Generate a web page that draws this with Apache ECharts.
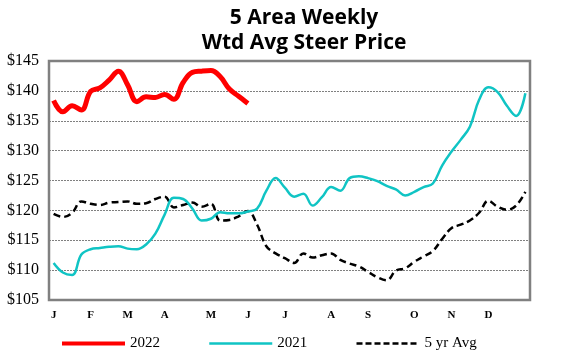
<!DOCTYPE html>
<html>
<head>
<meta charset="utf-8">
<script src="https://cdn.jsdelivr.net/npm/echarts@6/dist/echarts.min.js"></script>
<style>
  html, body { margin: 0; padding: 0; background: #fff; }
  #chart { width: 567px; height: 354px; }
</style>
</head>
<body>
<div id="chart"></div>
<script>
// weekly prices, $/cwt, week 1..52
var price2022 = [138.4, 136.5, 137.5, 136.8, 139.9, 140.5, 141.8, 143.3, 141.0, 138.2,
  139.0, 138.9, 139.4, 138.6, 141.4, 143.1, 143.3, 143.4, 142.4, 140.3,
  139.1, 137.9];

var price2021 = [111.2, 109.6, 109.2, 112.6, 113.5, 113.7, 113.9, 114.0, 113.6, 113.5,
  114.3, 116.1, 119.3, 122.1, 121.9, 120.3, 118.3, 118.6, 119.7, 119.5,
  119.5, 119.8, 120.3, 123.3, 125.4, 123.8, 122.3, 122.8, 120.8, 122.2,
  123.9, 123.3, 125.4, 125.7, 125.4, 124.9, 124.1, 123.5, 122.5, 123.1,
  123.9, 124.5, 127.5, 129.8, 131.8, 134.0, 138.5, 140.6, 139.8, 137.5,
  135.8, 139.6];

var avg5yr = [119.4, 118.9, 119.6, 121.5, 121.1, 120.9, 121.3, 121.4, 121.5, 121.1,
  121.2, 121.9, 122.3, 120.5, 120.9, 121.3, 120.6, 121.1, 118.3, 118.4,
  119.0, 119.9, 117.6, 114.0, 112.8, 112.0, 111.2, 112.8, 112.1, 112.5,
  112.8, 111.7, 111.1, 110.6, 109.7, 108.8, 108.3, 109.9, 110.3, 111.4,
  112.3, 113.2, 115.2, 117.0, 117.6, 118.3, 119.6, 121.6, 120.6, 120.1,
  120.8, 123.1];

var monthLabels = ['J', 'F', 'M', 'A', 'M', 'J', 'J', 'A', 'S', 'O', 'N', 'D'];
var monthWeeks = [0, 4, 8, 12, 17, 21, 25, 30, 34, 39, 43, 47];

var weeks = [];
for (var i = 0; i < 52; i++) weeks.push(String(i + 1));

function monthOf(idx) {
  var k = monthWeeks.indexOf(idx);
  return k >= 0 ? monthLabels[k] : '';
}

var serif = '"Liberation Serif", "Times New Roman", serif';

echarts.init(document.getElementById('chart')).setOption({
  animation: false,
  title: {
    text: '5 Area Weekly\nWtd Avg Steer Price',
    left: 299,
    top: 1,
    textAlign: 'center',
    textStyle: {
      fontFamily: '"Open Sans", sans-serif',
      fontWeight: 'bold',
      fontSize: 21,
      lineHeight: 25,
      color: '#000'
    }
  },
  grid: {
    left: 49,
    right: 37,
    top: 61,
    bottom: 54,
    show: true,
    borderColor: '#808080',
    borderWidth: 2.5,
    containLabel: false
  },
  legend: {
    left: 60,
    top: 336,
    padding: 0,
    itemWidth: 63,
    itemHeight: 14,
    itemGap: 48,
    itemStyle: { opacity: 0 },
    textStyle: { fontFamily: serif, fontSize: 15, color: '#000' },
    data: [
      { name: '2022', lineStyle: { width: 4 } },
      { name: '2021', lineStyle: { width: 2.5 } },
      { name: '5 yr Avg', lineStyle: { width: 2.5, type: [6, 3] } }
    ]
  },
  xAxis: {
    type: 'category',
    data: weeks,
    boundaryGap: true,
    axisLine: { show: false },
    axisTick: { show: false },
    axisLabel: {
      interval: function (idx) { return monthWeeks.indexOf(idx) >= 0; },
      formatter: function (v, idx) { return monthOf(idx); },
      fontFamily: serif,
      fontWeight: 'bold',
      fontSize: 11,
      color: '#000',
      margin: 10
    }
  },
  yAxis: {
    type: 'value',
    min: 105,
    max: 145,
    interval: 5,
    axisLine: { show: false },
    axisTick: { show: false },
    axisLabel: {
      formatter: '${value}',
      fontFamily: serif,
      fontSize: 16,
      color: '#000',
      margin: 10
    },
    splitLine: { lineStyle: { color: '#808080', width: 1, type: [2, 1] } }
  },
  series: [
    {
      name: '2022',
      type: 'line',
      data: price2022,
      smooth: 0.4,
      symbol: 'none',
      z: 4,
      lineStyle: { color: '#ff0000', width: 5 },
      itemStyle: { color: '#ff0000' }
    },
    {
      name: '2021',
      type: 'line',
      data: price2021,
      smooth: 0.4,
      symbol: 'none',
      z: 3,
      lineStyle: { color: '#10c4c4', width: 2.5 },
      itemStyle: { color: '#10c4c4' }
    },
    {
      name: '5 yr Avg',
      type: 'line',
      data: avg5yr,
      smooth: 0.4,
      symbol: 'none',
      z: 2,
      lineStyle: { color: '#000', width: 2.5, type: [7, 4] },
      itemStyle: { color: '#000' }
    }
  ]
});
</script>
</body>
</html>
